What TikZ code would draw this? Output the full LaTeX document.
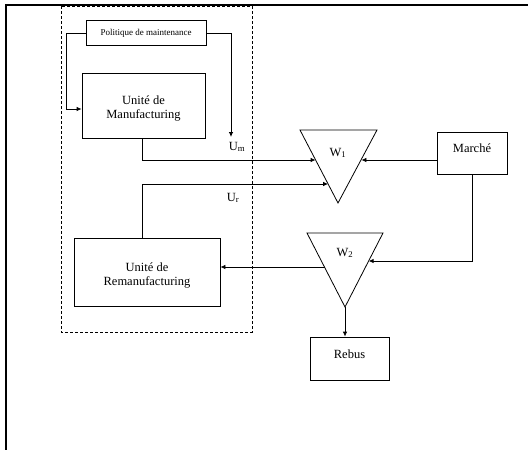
\documentclass[tikz,border=0pt]{standalone}
\usepackage{fontspec}
\setmainfont{Liberation Serif}
\usetikzlibrary{arrows.meta,calc}
\tikzset{
  box/.style={draw,line width=0.8pt,inner sep=0pt},
  lbl/.style={font=\fontsize{12.5}{14}\selectfont,align=center,inner sep=0pt},
  conn/.style={line width=0.8pt},
  arr/.style={line width=0.8pt,-{Latex[length=5pt,width=4.5pt]}},
  tri/.style={line width=0.8pt},
}
\begin{document}
\begin{tikzpicture}[x=1pt,y=-1pt]
\useasboundingbox (0,0) rectangle (528,450);
% outer border
\draw[line width=2pt] (6,450) -- (6,5) -- (528,5);
% dashed region
\draw[line width=0.7pt,dash pattern=on 3pt off 2pt] (61,6) rectangle (252,332);
% boxes
\node[box,minimum width=120pt,minimum height=25pt] (pol) at (146,32.5) {};
\node[inner sep=0pt,font=\fontsize{9}{10}\selectfont] (polt) at (146,33) {Politique de maintenance};
\node[box,minimum width=123pt,minimum height=65pt] (man) at (143.5,105.5) {};
\node[lbl] (mant) at (143.5,109) {Unité de\\Manufacturing};
\node[box,minimum width=146pt,minimum height=68pt] (rem) at (147,272) {};
\node[lbl] (remt) at (147,275) {Unité de\\Remanufacturing};
\node[box,minimum width=70pt,minimum height=42pt] (mar) at (472,153) {};
\node[lbl] (mart) at (472,148) {Marché};
\node[box,minimum width=79pt,minimum height=43pt] (reb) at (349.5,358.5) {};
\node[lbl] (rebt) at (349.5,354) {Rebus};
% triangles
\coordinate (w1tl) at (300,130);
\coordinate (w1tr) at (377,130);
\coordinate (w1b) at (338,203);
\draw[tri] (w1tl) -- (w1tr) -- (w1b) -- cycle;
\node[lbl] (w1) at (338,153) {W\textsubscript{1}};
\coordinate (w2tl) at (307,233);
\coordinate (w2tr) at (383,233);
\coordinate (w2b) at (345,307);
\draw[tri] (w2tl) -- (w2tr) -- (w2b) -- cycle;
\node[lbl] (w2) at (345,253) {W\textsubscript{2}};
% edge points
\coordinate (w1a) at (315.6,160);
\coordinate (w1c) at (328.1,184);
\coordinate (w1d) at (361.4,160);
\coordinate (w2a) at (368.6,261);
\coordinate (w2c) at (324.5,267);
% labels
\node[lbl] (um) at (237,147) {U\textsubscript{m}};
\node[lbl] (ur) at (233,198) {U\textsubscript{r}};
% connectors
\draw[arr] (pol.west |- 0,33) -| (66,109) -- (man.west |- 0,109);
\draw[arr] (pol.east |- 0,33) -| (231,137);
\draw[arr] (man.south -| 142,0) |- (w1a);
\draw[arr] (rem.north -| 142,0) |- (w1c);
\draw[arr] (mar.west |- w1d) -- (w1d);
\draw[arr] (mar.south) |- (w2a);
\draw[arr] (w2c) -- (rem.east |- w2c);
\draw[arr] (w2b) -- (reb.north -| w2b);
\end{tikzpicture}
\end{document}
